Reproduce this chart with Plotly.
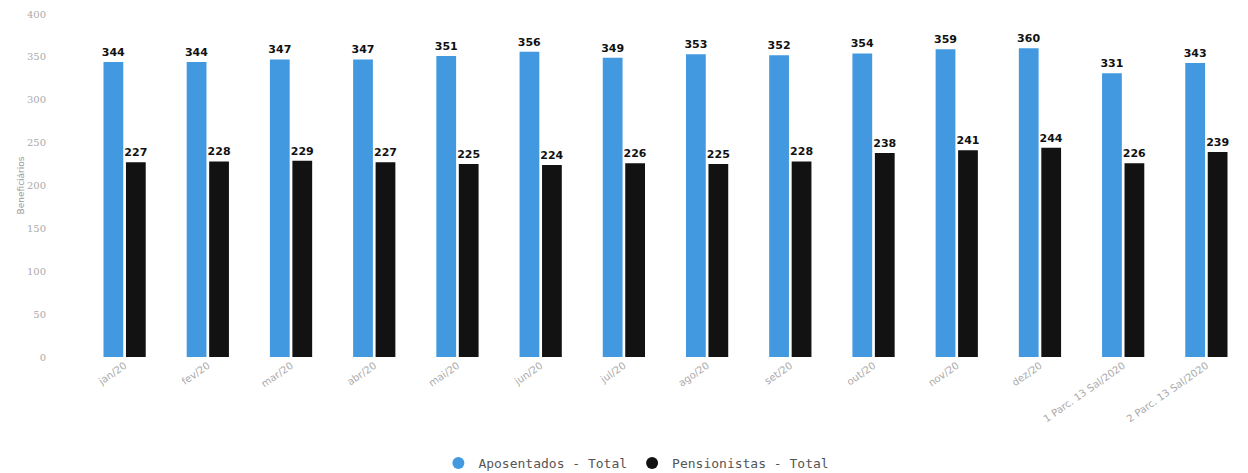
import plotly.graph_objects as go

categories = ["jan/20", "fev/20", "mar/20", "abr/20", "mai/20", "jun/20", "jul/20",
              "ago/20", "set/20", "out/20", "nov/20", "dez/20",
              "1 Parc. 13 Sal/2020", "2 Parc. 13 Sal/2020"]
aposentados = [344, 344, 347, 347, 351, 356, 349, 353, 352, 354, 359, 360, 331, 343]
pensionistas = [227, 228, 229, 227, 225, 224, 226, 225, 228, 238, 241, 244, 226, 239]

blue = "#4299df"
black = "#121212"

fig = go.Figure()
for name, vals, col in [("Aposentados - Total", aposentados, blue),
                        ("Pensionistas - Total", pensionistas, black)]:
    fig.add_trace(go.Bar(x=categories, y=vals, name=name,
                         marker=dict(color=col, line=dict(width=0)),
                         text=vals, texttemplate="<b>%{text}</b>", textposition="outside",
                         constraintext="none",
                         textfont=dict(family="DejaVu Sans", size=11, color="#111"),
                         cliponaxis=False, showlegend=False))
# legend entries with circular symbols
for name, col in [("Aposentados - Total", blue), ("Pensionistas - Total", black)]:
    fig.add_trace(go.Scatter(x=[None], y=[None], mode="markers", name=name,
                             marker=dict(color=col, size=11, symbol="circle")))

fig.update_layout(
    width=1240, height=465,
    margin=dict(l=75, r=0, t=6, b=116, autoexpand=False),
    paper_bgcolor="white", plot_bgcolor="white",
    barmode="group", bargap=0.46, bargroupgap=0.12,
    font=dict(family="DejaVu Sans", color="#999"),
    yaxis=dict(range=[0, 400], dtick=50, showgrid=False, zeroline=False,
               showline=False, ticks="", ticklabelstandoff=36, automargin=False,
               tickfont=dict(family="DejaVu Serif", size=10, color="#aaa"),
               title=dict(text="Beneficiários", font=dict(size=9, color="#999"), standoff=0)),
    xaxis=dict(showgrid=False, showline=False, ticks="", tickangle=-35, automargin=False,
               tickfont=dict(family="DejaVu Sans", size=10, color="#aaa")),
    legend=dict(orientation="h", x=0.475, xanchor="center", y=-0.309, yanchor="middle",
                font=dict(family="DejaVu Sans Mono", size=13, color="#555"),
                itemsizing="constant", itemwidth=30, tracegroupgap=0),
)

fig.write_html("out.html")
